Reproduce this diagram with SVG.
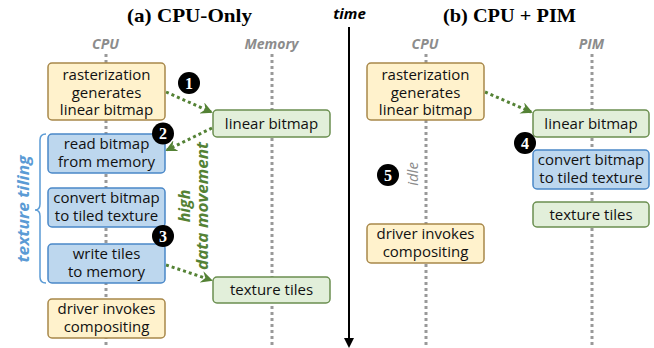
<svg xmlns="http://www.w3.org/2000/svg" width="654" height="348" viewBox="0 0 654 348">
<defs>
<marker id="ah" viewBox="0 0 12 12" refX="10" refY="6" markerWidth="12" markerHeight="12" markerUnits="userSpaceOnUse" orient="auto">
<path d="M0,0 L12,6 L0,12 L4,6 Z" fill="#548235"/>
</marker>
</defs>
<style>
.title{font-family:"Liberation Serif",serif;font-weight:bold;font-size:19px;fill:#000;text-anchor:middle}
.lane{font-family:"Open Sans",sans-serif;font-weight:bold;font-style:italic;font-size:14px;fill:#8c8c8c;text-anchor:middle}
.lt{font-family:"Open Sans",sans-serif;font-size:15px;fill:#111;text-anchor:middle}
.yel{fill:#fff2cc;stroke:#a8884a;stroke-width:1.5}
.blu{fill:#bdd7ee;stroke:#4a88c8;stroke-width:1.5}
.grn{fill:#e2efda;stroke:#6b8f50;stroke-width:1.5}
.dot{stroke:#999;stroke-width:3;stroke-dasharray:3 3;fill:none}
.flow{stroke:#548235;stroke-width:3;stroke-dasharray:3 3;fill:none;marker-end:url(#ah)}
.badge circle{fill:#000}
.badge text{font-family:"Liberation Serif",serif;font-weight:bold;font-size:16px;fill:#fff;text-anchor:middle}
.green{font-family:"Open Sans",sans-serif;font-weight:bold;font-style:italic;font-size:16px;fill:#548235;text-anchor:middle}
.blue{font-family:"Open Sans",sans-serif;font-weight:bold;font-style:italic;font-size:16px;fill:#5b9bd5;text-anchor:middle}
</style>
<rect width="654" height="348" fill="#fff"/>

<g id="titles">
<text class="title" x="189.5" y="22" textLength="125" lengthAdjust="spacingAndGlyphs">(a) CPU-Only</text>
<text class="title" x="509.5" y="22" textLength="133" lengthAdjust="spacingAndGlyphs">(b) CPU + PIM</text>
<text x="349.5" y="19" font-family="Open Sans, sans-serif" font-weight="bold" font-style="italic" font-size="15" text-anchor="middle">time</text>
<text class="lane" x="105.5" y="49">CPU</text>
<text class="lane" x="271.5" y="49">Memory</text>
<text class="lane" x="425" y="49">CPU</text>
<text class="lane" x="591.5" y="49">PIM</text>
</g>

<g id="lanes">
<line class="dot" x1="106" y1="54" x2="106" y2="348"/>
<line class="dot" x1="272" y1="54" x2="272" y2="348"/>
<line class="dot" x1="426" y1="54" x2="426" y2="348"/>
<line class="dot" x1="592" y1="54" x2="592" y2="348"/>
</g>

<g id="time-axis">
<line x1="349" y1="27" x2="349" y2="340" stroke="#000" stroke-width="2"/>
<polygon points="344,338 354,338 349,348" fill="#000"/>
</g>

<g id="connectors">
<path class="flow" d="M166,92 L211,112"/>
<path class="flow" d="M212,128 L167,150"/>
<path class="flow" d="M166,265 L211,280"/>
<path class="flow" d="M485,92 L531,112"/>
</g>

<g id="a-raster">
<rect class="yel" x="48" y="63" width="117" height="57" rx="4"/>
<text class="lt" x="106.5" y="80">rasterization</text>
<text class="lt" x="106.5" y="97.5">generates</text>
<text class="lt" x="106.5" y="115">linear bitmap</text>
</g>
<g id="a-read">
<rect class="blu" x="48" y="134" width="117" height="39" rx="4"/>
<text class="lt" x="106.5" y="149">read bitmap</text>
<text class="lt" x="106.5" y="167">from memory</text>
</g>
<g id="a-convert">
<rect class="blu" x="48" y="188" width="117" height="39" rx="4"/>
<text class="lt" x="106.5" y="203">convert bitmap</text>
<text class="lt" x="106.5" y="221">to tiled texture</text>
</g>
<g id="a-write">
<rect class="blu" x="48" y="244" width="117" height="39" rx="4"/>
<text class="lt" x="106.5" y="259">write tiles</text>
<text class="lt" x="106.5" y="277">to memory</text>
</g>
<g id="a-driver">
<rect class="yel" x="48" y="299" width="117" height="39" rx="4"/>
<text class="lt" x="106.5" y="314">driver invokes</text>
<text class="lt" x="106.5" y="332">compositing</text>
</g>
<g id="a-mem-linear">
<rect class="grn" x="213" y="110" width="117" height="27" rx="4"/>
<text class="lt" x="271.5" y="128.5">linear bitmap</text>
</g>
<g id="a-mem-tiles">
<rect class="grn" x="213" y="277" width="117" height="26" rx="4"/>
<text class="lt" x="271.5" y="295">texture tiles</text>
</g>

<g id="b-raster">
<rect class="yel" x="367" y="63" width="117" height="57" rx="4"/>
<text class="lt" x="425.5" y="80">rasterization</text>
<text class="lt" x="425.5" y="97.5">generates</text>
<text class="lt" x="425.5" y="115">linear bitmap</text>
</g>
<g id="b-driver">
<rect class="yel" x="367" y="224" width="117" height="39" rx="4"/>
<text class="lt" x="425.5" y="239">driver invokes</text>
<text class="lt" x="425.5" y="257">compositing</text>
</g>
<g id="b-pim-linear">
<rect class="grn" x="533" y="110" width="116" height="27" rx="4"/>
<text class="lt" x="591" y="128.5">linear bitmap</text>
</g>
<g id="b-pim-convert">
<rect class="blu" x="533" y="150" width="116" height="39" rx="4"/>
<text class="lt" x="591" y="165">convert bitmap</text>
<text class="lt" x="591" y="183">to tiled texture</text>
</g>
<g id="b-pim-tiles">
<rect class="grn" x="533" y="202" width="116" height="25" rx="4"/>
<text class="lt" x="591" y="219.5">texture tiles</text>
</g>

<g id="annotations">
<path d="M46,134 Q40,134 40,140 L40,204 Q40,210 35,210 Q40,210 40,216 L40,277 Q40,283 46,283" fill="none" stroke="#5b9bd5" stroke-width="1.5"/>
<text class="blue" transform="translate(29,209) rotate(-90)" textLength="107" lengthAdjust="spacingAndGlyphs">texture tiling</text>
<text class="green" transform="translate(190,206) rotate(-90)">high</text>
<text class="green" transform="translate(208,206) rotate(-90)" textLength="128" lengthAdjust="spacingAndGlyphs">data movement</text>
<text transform="translate(418,174) rotate(-90)" font-family="Open Sans, sans-serif" font-style="italic" font-size="15" fill="#8c8c8c" text-anchor="middle">idle</text>
</g>

<g id="badge1" class="badge"><circle cx="189" cy="83" r="11"/><text x="189" y="88.5">1</text></g>
<g id="badge2" class="badge"><circle cx="163" cy="133.5" r="11"/><text x="163" y="139">2</text></g>
<g id="badge3" class="badge"><circle cx="163" cy="236" r="11"/><text x="163" y="241.5">3</text></g>
<g id="badge4" class="badge"><circle cx="525" cy="143" r="11"/><text x="525" y="148.5">4</text></g>
<g id="badge5" class="badge"><circle cx="388" cy="175" r="11"/><text x="388" y="180.5">5</text></g>
</svg>
